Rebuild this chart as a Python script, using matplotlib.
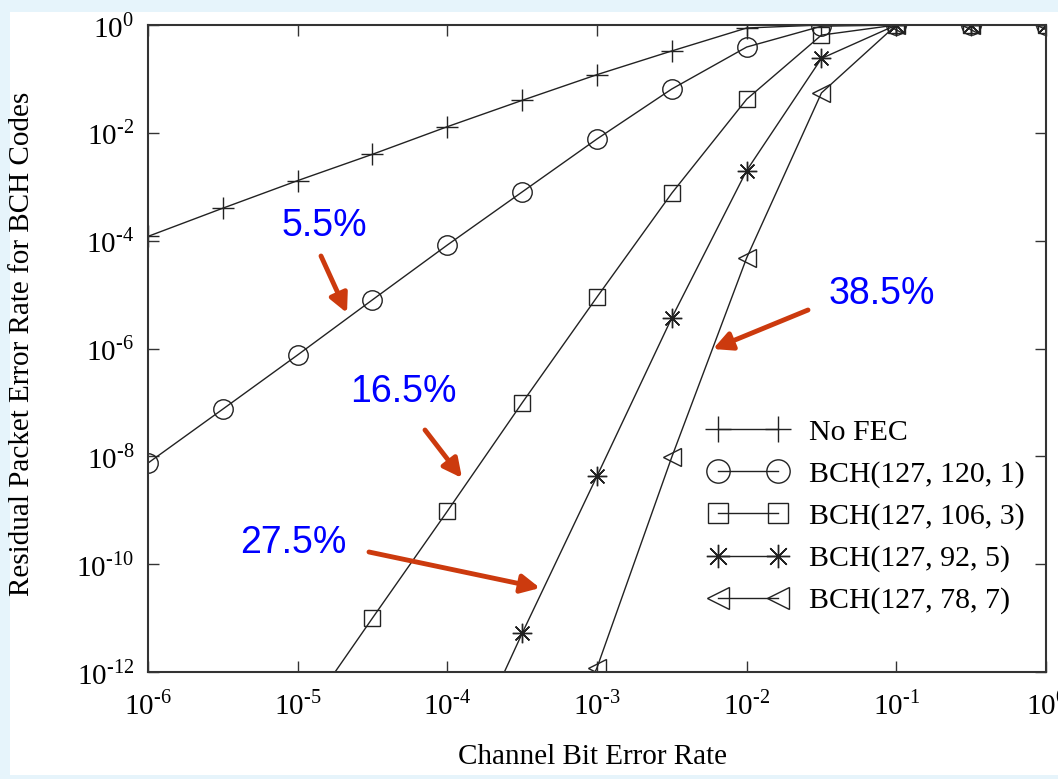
import numpy as np
import matplotlib
matplotlib.use("Agg")
import matplotlib.pyplot as plt
from matplotlib.patches import Rectangle
from matplotlib.ticker import FuncFormatter

# channel bit error rate (half-decade steps)
ber = [1e-6, 3.16e-6, 1e-5, 3.16e-5, 1e-4, 3.16e-4, 1e-3, 3.16e-3, 1e-2, 3.16e-2, 1e-1, 3.16e-1, 1.0]
nan = np.nan
no_fec = [1.2e-4, 4e-4, 1.3e-3, 4e-3, 1.3e-2, 4e-2, 0.12, 0.33, 0.88, 1.0, 1.0, 1.0, 1.0]
bch_120 = [7.5e-9, 7.5e-8, 7.6e-7, 8e-6, 8.3e-5, 8e-4, 7.7e-3, 6.5e-2, 0.39, 0.95, 1.0, 1.0, 1.0]
bch_106 = [nan, nan, 1e-13, 1e-11, 9.6e-10, 9.8e-8, 9e-6, 7.6e-4, 4.2e-2, 0.65, 1.0, 1.0, 1.0]
bch_92 = [nan, nan, nan, nan, 5e-15, 5.2e-12, 4.3e-9, 3.7e-6, 2e-3, 0.24, 1.0, 1.0, 1.0]
bch_78 = [nan, nan, nan, nan, nan, 1e-15, 1.2e-12, 9.7e-9, 4.8e-5, 5.5e-2, 1.0, 1.0, 1.0]

labels = ["No FEC", "BCH(127, 120, 1)", "BCH(127, 106, 3)", "BCH(127, 92, 5)", "BCH(127, 78, 7)"]
markers = ["+", "o", "s", (8, 2, 0), "<"]
sizes = [16, 14, 12, 14, 13]

# overhead annotations: text, text centre, arrow tail, arrow tip (image pixels)
notes = [
    ("5.5%", (324, 226), (321, 256), (347, 313)),
    ("16.5%", (403, 392), (425, 430), (462, 478)),
    ("27.5%", (293, 543), (369, 552), (540, 588)),
    ("38.5%", (882, 294), (808, 310), (713, 349)),
]

W, H = 1058, 779
plt.rcParams["font.family"] = ["Liberation Serif", "DejaVu Serif"]
plt.rcParams["mathtext.fontset"] = "custom"
plt.rcParams["mathtext.rm"] = "Liberation Serif"


def pow_label(v, pos):
    e = int(round(np.log10(v)))
    s = str(e).replace("-", "\u2010")
    return "$\\mathrm{10}^{%s}$" % s


fig = plt.figure(figsize=(W / 100, H / 100), dpi=100, facecolor="#e6f4fb")
fig.patches.append(Rectangle((10 / W, 4 / H), 1, 1 - 16 / H, transform=fig.transFigure,
                             facecolor="white", edgecolor="none", zorder=-10))

ax = fig.add_axes([148 / W, 1 - 672 / H, 898 / W, 647 / H])
ax.set_facecolor("white")

series = [no_fec, bch_120, bch_106, bch_92, bch_78]
for vals, lab, mk, ms in zip(series, labels, markers, sizes):
    ax.plot(ber, vals, color="#222222", lw=1.0, marker=mk, markersize=ms,
            markerfacecolor="none", markeredgecolor="#222222", markeredgewidth=1.0,
            label=lab)

ax.set_xscale("log")
ax.set_yscale("log")
ax.set_xlim(1e-6, 1)
ax.set_ylim(1e-12, 1)
ax.set_xticks([10.0 ** k for k in range(-6, 1)])
ax.set_yticks([10.0 ** k for k in range(-12, 1, 2)])
ax.minorticks_off()
ax.xaxis.set_major_formatter(FuncFormatter(pow_label))
ax.yaxis.set_major_formatter(FuncFormatter(pow_label))
ax.tick_params(which="major", direction="in", length=8, width=1.0, labelsize=21,
               top=True, right=True, color="#333333")
ax.tick_params(axis="x", pad=13)
ax.tick_params(axis="y", pad=10)
for s in ax.spines.values():
    s.set_linewidth(1.5)
    s.set_color("#333333")

fig.text(593 / W, 1 - 757 / H, "Channel Bit Error Rate", ha="center", va="center", fontsize=21)
fig.text(22 / W, 1 - 344 / H, "Residual Packet Error Rate for BCH Codes", ha="center",
         va="center", rotation=90, fontsize=21)

leg = ax.legend(loc="upper left", bbox_to_anchor=(697 / W, 1 - 407 / H),
                bbox_transform=fig.transFigure, frameon=False, numpoints=2,
                handlelength=2.6, handletextpad=0.75, labelspacing=0.5,
                fontsize=21.5, borderaxespad=0, markerscale=1.2)

for txt, c, tail, tip in notes:
    fig.text(c[0] / W, 1 - c[1] / H, txt, ha="center", va="center", color="#0000ff",
             fontsize=27, family="Liberation Sans")
    ax.annotate("", xy=(tip[0] / W, 1 - tip[1] / H), xytext=(tail[0] / W, 1 - tail[1] / H),
                xycoords="figure fraction", textcoords="figure fraction",
                arrowprops=dict(arrowstyle="-|>", color="#cc3a0e", lw=3.5,
                                mutation_scale=28, shrinkA=0, shrinkB=0))

fig.savefig("out.png", dpi=100, facecolor=fig.get_facecolor())
